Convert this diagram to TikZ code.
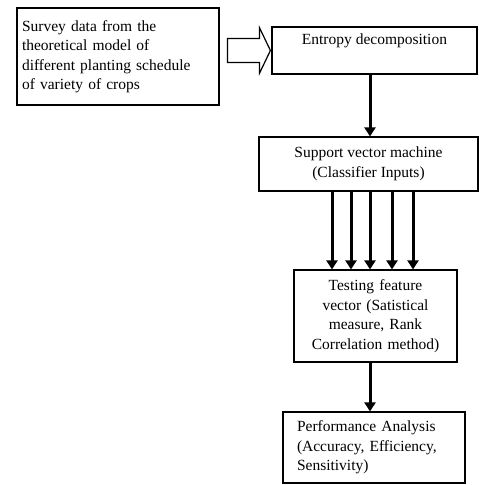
\documentclass[tikz,border=0pt]{standalone}
\usepackage{fontspec}
\setmainfont{Liberation Serif}
\usetikzlibrary{calc,arrows.meta}

\tikzset{
    box/.style={draw, line width=1.2pt, inner sep=4pt, font=\fontsize{15.5}{19.5}\selectfont},
    flow/.style={line width=3pt, -{Triangle[length=9pt,width=11pt]}},
    hollow/.style={draw, line width=1.2pt}
}

\begin{document}
\begin{tikzpicture}[x=1pt, y=-1pt]
    \useasboundingbox (0, 0) rectangle (479, 485);

    \node [box, minimum width=202pt, minimum height=97pt, text width=192pt, inner xsep=5pt, align=left] (survey) at (118, 56.5)
        {Survey data from the\\ theoretical model of\\ different planting schedule\\ of variety of crops};
    \node [box, minimum width=205pt, text height=14pt, text depth=27pt, inner ysep=3pt, align=center] (entropy) at (374.5, 50.5) {Entropy decomposition};
        \node [box, minimum width=219pt, minimum height=54pt, align=center] (svm) at (368.5, 164)
            {Support vector machine\\ (Classifier Inputs)};
            \node [box, minimum width=163pt, minimum height=92pt, text width=155pt, align=center] (testing) at (375.5, 316)
                {Testing feature\\ vector (Satistical\\ measure, Rank\\ Correlation method)};
                \node [box, minimum width=182pt, minimum height=71pt, text width=154pt, align=left] (perf) at (374, 447.5)
                    {Performance Analysis\\ (Accuracy, Efficiency,\\ Sensitivity)};

    % block arrow from the survey box to entropy
    \coordinate (tip) at ($(entropy.west) + (-1, 0)$);
    \draw [hollow] ($(tip) + (-43, -12)$) -- ($(tip) + (-11, -12)$) -- ($(tip) + (-11, -23)$) -- (tip)
        -- ($(tip) + (-11, 23)$) -- ($(tip) + (-11, 12)$) -- ($(tip) + (-43, 12)$) -- cycle;

    \coordinate (e1) at ($(entropy.south) + (-4.5, 0)$);
    \draw [flow] (e1) -- (e1 |- svm.north);
    \foreach \dx [count=\i] in {-36.5, -17.5, 1.5, 23.5, 44.5} {
        \coordinate (s\i) at ($(svm.south) + (\dx, 0)$);
        \draw [flow] (s\i) -- (s\i |- testing.north);
    }
    \coordinate (t1) at ($(testing.south) + (-5.5, 0)$);
    \draw [flow] (t1) -- (t1 |- perf.north);
\end{tikzpicture}
\end{document}
